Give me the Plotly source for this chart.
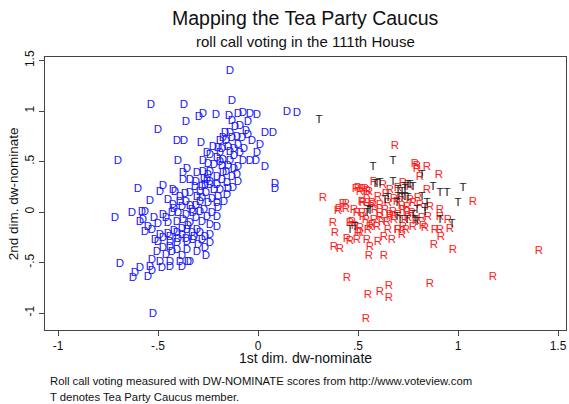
import plotly.graph_objects as go

# DW-NOMINATE scores (1st dim, 2nd dim)
dem_x = [-0.14, -0.13, -0.535, -0.37, -0.275, -0.295, -0.21, -0.145, -0.10, -0.075, -0.04, -0.005, 0.145, 0.195,
         -0.36, -0.05, -0.50, -0.115, -0.405, -0.37, -0.285, 0.035, 0.075, -0.14, -0.165, -0.175, -0.13, -0.105,
         -0.08, -0.05, -0.19, 0.01, -0.225, -0.20, -0.15, -0.14, -0.005, -0.255, -0.24, -0.19, -0.205, -0.175,
         -0.40, -0.70, -0.075, -0.04, -0.01, -0.275, -0.25, -0.19, -0.18, -0.15, -0.10, 0.035, -0.355, -0.375,
         -0.34, -0.375, -0.305, -0.275, -0.24, -0.205, -0.175, -0.13, -0.105, -0.24, -0.205, -0.155, -0.125,
         -0.315, -0.29, -0.34, -0.305, -0.425, -0.39, -0.19, -0.20, -0.155, -0.265, -0.255, 0.085, 0.085, -0.60,
         -0.475, -0.49, -0.415, -0.365, -0.54, -0.45, -0.39, -0.715, -0.63, -0.58, -0.565, -0.59, -0.575, -0.475,
         -0.43, -0.40, -0.425, -0.38, -0.34, -0.28, -0.24, -0.29, -0.25, -0.205, -0.325, -0.29, -0.255, -0.23,
         -0.205, -0.205, -0.24, -0.375, -0.34, -0.405, -0.45, -0.55, -0.53, -0.565, -0.515, -0.50, -0.475, -0.44,
         -0.49, -0.405, -0.38, -0.355, -0.33, -0.305, -0.29, -0.265, -0.24, -0.405, -0.355, -0.325, -0.28, -0.24,
         -0.505, -0.475, -0.44, -0.43, -0.405, -0.355, -0.305, -0.265, -0.53, -0.49, -0.44, -0.39, -0.34, -0.69,
         -0.54, -0.53, -0.48, -0.44, -0.38, -0.35, -0.59, -0.615, -0.625, -0.55, -0.525,
         -0.12, -0.10, -0.16, -0.12, -0.14, -0.16, -0.12, -0.18, -0.22, -0.26, -0.23, -0.28, -0.31, -0.27, -0.33,
         -0.36, -0.31, -0.28, -0.35, -0.38, -0.42, -0.45, -0.32, -0.36, -0.40, -0.44, -0.30, -0.46, -0.38, -0.26,
         -0.50, -0.46, -0.52, -0.42, -0.36, -0.31, -0.22, -0.25, -0.09, -0.07, -0.03, -0.06, -0.09, -0.13, -0.18,
         -0.27, -0.20, -0.17, -0.15, -0.10]
dem_y = [1.40, 1.10, 1.06, 1.06, 0.97, 0.94, 0.96, 0.95, 0.97, 0.98, 0.97, 0.96, 0.99, 0.98,
         0.89, 0.89, 0.81, 0.84, 0.70, 0.70, 0.68, 0.78, 0.78, 0.78, 0.78, 0.73, 0.73, 0.74,
         0.73, 0.76, 0.70, 0.66, 0.64, 0.63, 0.64, 0.59, 0.58, 0.58, 0.56, 0.58, 0.53, 0.51,
         0.50, 0.50, 0.50, 0.50, 0.50, 0.50, 0.47, 0.49, 0.45, 0.45, 0.44, 0.44, 0.42, 0.39,
         0.32, 0.32, 0.39, 0.40, 0.40, 0.35, 0.39, 0.35, 0.37, 0.30, 0.27, 0.29, 0.24,
         0.25, 0.20, 0.19, 0.15, 0.22, 0.15, 0.22, 0.15, 0.17, 0.27, 0.32, 0.28, 0.23, 0.23,
         0.26, 0.20, 0.20, 0.18, 0.11, 0.12, 0.10, -0.06, -0.01, 0.00, 0.00, -0.10, -0.08, -0.03,
         -0.01, -0.01, 0.07, 0.05, 0.06, 0.25, 0.27, 0.10, 0.09, 0.09, -0.01, 0.00, -0.05, -0.01,
         -0.05, -0.15, -0.13, -0.08, -0.11, -0.10, -0.11, -0.15, -0.18, -0.20, -0.28, -0.30, -0.26, -0.25,
         -0.23, -0.21, -0.23, -0.18, -0.21, -0.18, -0.21, -0.25, -0.23, -0.31, -0.30, -0.28, -0.28, -0.31,
         -0.40, -0.36, -0.35, -0.40, -0.38, -0.38, -0.40, -0.36, -0.48, -0.50, -0.50, -0.50, -0.50, -0.52,
         -0.55, -0.59, -0.56, -0.55, -0.55, -0.50, -0.56, -0.60, -0.65, -0.64, -1.01,
         0.62, 0.66, 0.70, 0.55, 0.50, 0.40, 0.42, 0.32, 0.22, 0.19, 0.13, 0.14, 0.06, 0.02, 0.02,
         -0.03, -0.06, -0.10, -0.14, -0.17, -0.19, -0.22, -0.25, -0.27, -0.27, -0.30, -0.33, -0.43, -0.44, -0.44,
         -0.12, -0.06, -0.06, 0.03, 0.10, 0.30, 0.46, 0.37, 0.58, 0.62, 0.70, 0.80, 0.85, 0.90, 0.62,
         0.33, 0.04, 0.10, 0.23, 0.30]

rep_x = [0.325, 0.40, 0.44, 0.375, 0.385, 0.38, 0.41, 0.46, 0.485, 0.51, 0.50, 0.445, 0.46, 0.495, 0.545,
         0.56, 0.555, 0.63, 0.445, 0.55, 0.61, 0.655, 0.655, 0.54, 0.51, 0.545, 0.525, 0.57, 0.495, 0.52,
         0.525, 0.55, 0.57, 0.595, 0.61, 0.635, 0.66, 0.675, 0.65, 0.70, 0.74, 0.72, 0.61, 0.65, 0.695,
         0.725, 0.77, 0.50, 0.535, 0.555, 0.425, 0.405, 0.44, 0.795, 0.845, 0.81, 0.905, 0.685, 1.075,
         0.845, 0.95, 0.96, 0.91, 0.885, 0.835, 0.915, 0.88, 0.975, 1.405, 1.175, 0.86,
         0.775, 0.81, 0.86, 0.745, 0.82, 0.85, 0.91, 0.91, 0.725, 0.775, 0.825, 0.52, 0.545, 0.575, 0.585,
         0.61, 0.645, 0.66, 0.735, 0.745, 0.725, 0.76, 0.47, 0.51, 0.56, 0.70, 0.49, 0.52, 0.545, 0.625,
         0.70, 0.785, 0.795, 0.60, 0.64, 0.68, 0.72, 0.76, 0.80, 0.58, 0.62, 0.68, 0.70, 0.75, 0.79, 0.63,
         0.67, 0.60, 0.58, 0.66, 0.72, 0.54, 0.48]
rep_y = [0.14, 0.01, 0.08, -0.11, -0.21, -0.35, -0.37, -0.11, -0.14, -0.16, -0.21, -0.27, -0.29, -0.28, -0.28,
         -0.35, -0.44, -0.44, -0.65, -0.82, -0.79, -0.73, -0.85, -1.06, 0.20, 0.17, 0.09, 0.09, -0.01, -0.01,
         -0.05, -0.18, -0.13, -0.15, -0.01, 0.02, -0.05, 0.00, -0.18, -0.18, -0.18, -0.23, 0.07, 0.09, 0.10,
         0.02, -0.01, 0.24, 0.23, 0.20, 0.08, 0.03, 0.03, 0.45, 0.44, 0.35, 0.37, 0.65, 0.10,
         0.22, -0.08, -0.17, -0.18, -0.18, -0.16, -0.25, -0.33, -0.38, -0.39, -0.64, -0.71,
         0.09, 0.07, 0.05, 0.00, -0.06, -0.05, 0.02, -0.05, -0.15, -0.15, -0.14, 0.10, 0.09, 0.07, 0.02,
         -0.05, -0.10, -0.03, -0.08, 0.05, 0.29, 0.25, -0.10, -0.21, -0.15, -0.18, 0.23, 0.23, 0.21, 0.27,
         0.24, 0.47, 0.42, 0.15, 0.18, 0.13, 0.15, 0.12, 0.14, -0.08, -0.10, -0.08, -0.03, -0.06, -0.09, -0.25,
         -0.28, -0.30, 0.30, 0.22, 0.06, -0.08, 0.02]

tea_x = [0.305, 0.575, 0.675, 0.675, 0.595, 0.635, 0.65, 0.70, 0.72, 0.55, 0.545, 0.71, 0.485, 0.695, 0.82,
         0.875, 0.91, 0.945, 1.025, 1.00, 0.76, 0.775, 0.735, 0.82, 0.795, 0.835, 0.845, 0.91, 0.97, 0.745,
         0.795, 0.585, 0.61, 0.70, 0.72, 0.735, 0.75, 0.56, 0.46, 0.695, 0.735, 0.75, 0.775, 0.785, 0.835]
tea_y = [0.91, 0.44, 0.50, 0.30, 0.28, 0.12, 0.14, 0.15, 0.14, 0.02, -0.01, -0.08, -0.15, 0.09, 0.37,
         0.25, 0.19, 0.19, 0.24, 0.09, 0.27, 0.25, 0.25, 0.15, 0.02, 0.00, 0.09, -0.08, -0.12, -0.08,
         -0.10, 0.28, 0.29, 0.22, 0.20, 0.23, 0.27, 0.01, -0.18, -0.05, 0.15, 0.14, -0.03, -0.08, 0.04]

x_ticks = [-1, -0.5, 0, 0.5, 1, 1.5]
x_labels = ["-1", "-.5", "0", ".5", "1", "1.5"]
y_ticks = [-1, -0.5, 0, 0.5, 1, 1.5]
y_labels = ["-1", "-.5", "0", ".5", "1", "1.5"]

FONT = "Liberation Sans, Arial, sans-serif"

fig = go.Figure()
for xs, ys, letter, color in [(dem_x, dem_y, "D", "#1a1aff"),
                              (rep_x, rep_y, "R", "#ff2020"),
                              (tea_x, tea_y, "T", "#222222")]:
    fig.add_trace(go.Scatter(x=xs, y=ys, mode="text", text=[letter] * len(xs),
                             textfont=dict(family=FONT, size=11.5, color=color),
                             hoverinfo="x+y", showlegend=False, cliponaxis=False))

axis_style = dict(showline=True, linecolor="#444", linewidth=1, mirror=True, showgrid=False,
                  zeroline=False, ticks="outside", ticklen=5, tickcolor="#444", automargin=False,
                  tickfont=dict(family=FONT, size=12, color="#111"))
fig.update_xaxes(range=[-1.065, 1.54], tickvals=x_ticks, ticktext=x_labels, **axis_style)
fig.update_yaxes(range=[-1.168, 1.535], tickvals=y_ticks, ticktext=y_labels, tickangle=-90, **axis_style)

notes = [
    dict(text="Mapping the Tea Party Caucus", x=0.5, y=1.143, size=19.5, xanchor="center"),
    dict(text="roll call voting in the 111th House", x=0.5, y=1.055, size=15, xanchor="center"),
    dict(text="1st dim. dw-nominate", x=0.5, y=-0.103, size=14, xanchor="center"),
    dict(text="Roll call voting measured with DW-NOMINATE scores from http://www.voteview.com",
         x=0.006, y=-0.187, size=11.3, xanchor="left"),
    dict(text="T denotes Tea Party Caucus member.", x=0.006, y=-0.245, size=11.3, xanchor="left"),
]
for n in notes:
    fig.add_annotation(text=n["text"], xref="paper", yref="paper", x=n["x"], y=n["y"],
                       xanchor=n["xanchor"], yanchor="middle", showarrow=False,
                       font=dict(family=FONT, size=n["size"], color="#111"))
fig.add_annotation(text="2nd dim. dw-nominate", xref="paper", yref="paper", x=-0.06, y=0.5,
                   xanchor="center", yanchor="middle", textangle=-90, showarrow=False,
                   font=dict(family=FONT, size=13.5, color="#111"))

fig.update_layout(width=569, height=404, margin=dict(l=45, r=3, t=57, b=74, autoexpand=False),
                  plot_bgcolor="white", paper_bgcolor="white")
# page body has a default 8px margin; drop it so the figure fills the window
fig.write_html("out.html", config={"displayModeBar": False},
               post_script="document.body.style.margin='0';document.body.style.overflow='hidden';")
